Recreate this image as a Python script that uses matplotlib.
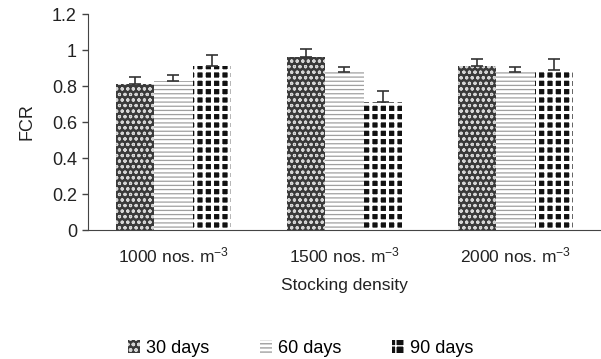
import numpy as np
import matplotlib
matplotlib.use("Agg")
import matplotlib.pyplot as plt

plt.rcParams['font.family'] = ['Liberation Sans', 'DejaVu Sans']
plt.rcParams['mathtext.fontset'] = 'custom'
plt.rcParams['mathtext.rm'] = 'Liberation Sans'
plt.rcParams['mathtext.it'] = 'Liberation Sans'

# datos
grupos = ['1000 nos. m$^{-3}$', '1500 nos. m$^{-3}$', '2000 nos. m$^{-3}$']
series = ['30 days', '60 days', '90 days']
fcr_30 = [0.81, 0.96, 0.91]
fcr_60 = [0.83, 0.88, 0.88]
fcr_90 = [0.91, 0.71, 0.89]
err_30 = [0.04, 0.045, 0.04]
err_60 = [0.03, 0.025, 0.025]
err_90 = [0.065, 0.065, 0.06]
yticks = [0, 0.2, 0.4, 0.6, 0.8, 1.0, 1.2]
ytick_labels = ['0', '0.2', '0.4', '0.6', '0.8', '1', '1.2']

fig = plt.figure(figsize=(6.01, 3.59), dpi=100)
ax = fig.add_axes([0.1464, 0.3593, 0.8536, 0.6017])

x = np.arange(len(grupos))
w = 0.224

estilos = [
    dict(facecolor='#3a3a3a', edgecolor='#d5d5d5', hatch='ooo'),
    dict(facecolor='white', edgecolor='#a0a0a0', hatch='----'),
    dict(facecolor='#111111', edgecolor='white', hatch='++'),
]
grosor_hatch = [0.8, 0.9, 2.2]
valores = [fcr_30, fcr_60, fcr_90]
errores = [err_30, err_60, err_90]

for i in range(3):
    pos = x + (i - 1) * w
    with plt.rc_context({'hatch.linewidth': grosor_hatch[i]}):
        ax.bar(pos, valores[i], width=w, label=series[i], linewidth=0, **estilos[i])
    ax.errorbar(pos, valores[i], yerr=[np.zeros(3), errores[i]], fmt='none',
                ecolor='#333333', elinewidth=1.2, capsize=4, capthick=1.2)

ax.set_xlim(-0.5, 2.5)
ax.set_ylim(0, 1.2)
ax.set_yticks(yticks)
ax.set_yticklabels(ytick_labels, fontsize=13, color='#222222')
ax.set_xticks(x)
ax.set_xticklabels(grupos, fontsize=12.5, color='#222222')
ax.tick_params(axis='x', length=0, pad=11)
ax.tick_params(axis='y', length=4, width=1, color='#444444', pad=4)
ax.spines['top'].set_visible(False)
ax.spines['right'].set_visible(False)
ax.spines['left'].set_color('#444444')
ax.spines['bottom'].set_color('#444444')
ax.set_ylabel('FCR', fontsize=13, color='#222222', labelpad=12)
ax.set_xlabel('Stocking density', fontsize=12.5, color='#222222', labelpad=9)

fig.legend(loc='lower center', bbox_to_anchor=(0.5, -0.04), ncol=3, frameon=False,
           fontsize=13, handlelength=0.7, handleheight=0.7, handletextpad=0.3,
           columnspacing=2.8)

fig.savefig('out.png', dpi=100)
